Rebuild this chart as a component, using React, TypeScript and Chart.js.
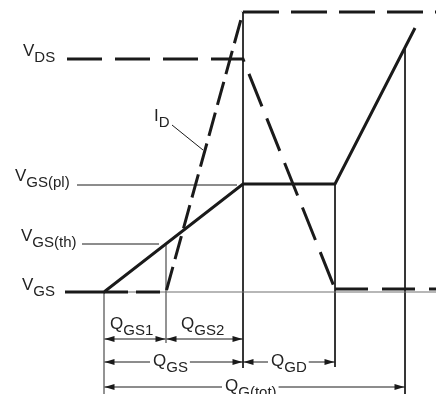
import React, { useEffect, useRef } from "react";
import { Chart, registerables } from "chart.js";

Chart.register(...registerables);

// ---- Charge axis (relative units, 0 = start of gate charging) ----
const qAxisMin = -104;
const qAxisMax = 332;
const qVgsStart = -39;
const qVdsStart = -37;
const qGS1 = 62;
const qGS = 139;
const qGD = 231;
const qTot = 301;
const qVgsEnd = 311;

// ---- Level axis (relative units, 0 = V_GS baseline) ----
const vAxisMin = -102;
const vAxisMax = 292;
const vTh = 48;
const vPl = 108;
const vDS = 233;
const vDSon = 3;
const iDmax = 280;
const vGSmax = 264;

// ---- Waveforms ----
const vgsCharge = [qVgsStart, 0, qGS, qGD, qVgsEnd];
const vgsLevel = [0, 0, vPl, vPl, vGSmax];

const idRiseCharge = [0, qGS1, qGS];
const idRiseLevel = [0, 0, iDmax];
const idTopCharge = [qGS, qAxisMax];
const idTopLevel = [iDmax, iDmax];

const vdsCharge = [qVdsStart, qGS, qGD];
const vdsLevel = [vDS, vDS, vDSon];
const vdsOnCharge = [qGD, qAxisMax];
const vdsOnLevel = [vDSon, vDSon];

// ---- Dimension rows (levels below baseline) ----
const rowLevels = [-47, -70, -95];
const arrowSpans: [number, number, number][] = [
  [0, qGS1, 0],
  [qGS1, qGS, 0],
  [0, qGS, 1],
  [qGS, qGD, 1],
  [0, qTot, 2],
];

// ---- Text labels: main, subscript, charge, level, boxed ----
const labelMain = ["V", "V", "V", "V", "I", "Q", "Q", "Q", "Q", "Q"];
const labelSub = ["DS", "GS(pl)", "GS(th)", "GS", "D", "GS1", "GS2", "GS", "GD", "G(tot)"];
const labelCharge = [-81, -89, -83, -82, 50, 6, 77, 49, 167, 121];
const labelLevel = [236, 111, 51, 2, 171, -37, -37, -74, -74, -99];
const labelBoxed = [false, false, false, false, false, false, false, true, true, true];

const pts = (xs: number[], ys: number[]) => xs.map((x, i) => ({ x, y: ys[i] }));

const INK = "#1a1a1a";
const GRAY = "#707070";
const FONT = '"Liberation Sans", Arial, Helvetica, sans-serif';

export default function App() {
  const ref = useRef<HTMLCanvasElement | null>(null);

  useEffect(() => {
    if (!ref.current) return;

    const thin = (data: { x: number; y: number }[], color = INK, width = 1) => ({
      data,
      borderColor: color,
      borderWidth: width,
      pointRadius: 0,
      showLine: true,
      fill: false,
      tension: 0,
      order: 5,
    });
    const thick = (data: { x: number; y: number }[], dash: number[]) => ({
      data,
      borderColor: INK,
      borderWidth: 3,
      borderDash: dash,
      borderCapStyle: "butt" as const,
      borderJoinStyle: "miter" as const,
      pointRadius: 0,
      showLine: true,
      fill: false,
      tension: 0,
      order: 1,
    });

    const vAtGS1 = (vPl * qGS1) / qGS;
    const vAtTot = vPl + ((vGSmax - vPl) * (qTot - qGD)) / (qVgsEnd - qGD);

    const guides = [
      thin(pts([0, qAxisMax], [0, 0]), GRAY, 1.2),
      thin(pts([0, 0], [0, vAxisMin]), GRAY, 1.5),
      thin(pts([qGS1, qGS1], [vAtGS1, rowLevels[0] - 4]), GRAY, 1.5),
      thin(pts([qGS, qGS], [iDmax, rowLevels[1] - 6])),
      thin(pts([qGD, qGD], [vPl, rowLevels[1] - 5])),
      thin(pts([qTot, qTot], [vAtTot, vAxisMin])),
      thin(pts([-27, qGS - 6], [vPl - 1, vPl - 1])),
      thin(pts([-22, qGS1 - 7], [vTh, vTh])),
      thin(pts([68, 99], [167, 142])),
      ...arrowSpans.map(([a, b, r]) => thin(pts([a, b], [rowLevels[r], rowLevels[r]]))),
    ];

    const waves = [
      thick(pts(vgsCharge, vgsLevel), []),
      thick(pts(idRiseCharge, idRiseLevel), [24, 8]),
      thick(pts(idTopCharge, idTopLevel), [36, 12]),
      thick(pts(vdsCharge, vdsLevel), [35, 13]),
      thick(pts(vdsOnCharge, vdsOnLevel), [33, 14]),
    ];

    const annot = {
      id: "annot",
      afterDatasetsDraw(chart: any) {
        const ctx = chart.ctx as CanvasRenderingContext2D;
        const xs = chart.scales.x;
        const ys = chart.scales.y;
        ctx.save();
        // arrowheads
        ctx.fillStyle = INK;
        const head = (x: number, y: number, dir: number) => {
          ctx.beginPath();
          ctx.moveTo(x, y);
          ctx.lineTo(x - dir * 10, y - 3);
          ctx.lineTo(x - dir * 10, y + 3);
          ctx.closePath();
          ctx.fill();
        };
        arrowSpans.forEach(([a, b, r]) => {
          const y = ys.getPixelForValue(rowLevels[r]);
          head(xs.getPixelForValue(a) + 0.5, y, -1);
          head(xs.getPixelForValue(b) - 0.5, y, 1);
        });
        // labels
        ctx.textBaseline = "alphabetic";
        ctx.textAlign = "left";
        labelMain.forEach((m, i) => {
          const x = xs.getPixelForValue(labelCharge[i]);
          const y = ys.getPixelForValue(labelLevel[i]);
          ctx.font = `17px ${FONT}`;
          const wm = ctx.measureText(m).width;
          ctx.font = `15px ${FONT}`;
          const ws = ctx.measureText(labelSub[i]).width;
          if (labelBoxed[i]) {
            ctx.fillStyle = "#ffffff";
            ctx.fillRect(x - 3, y - 14, wm + ws + 5, 24);
          }
          ctx.fillStyle = "#222222";
          ctx.font = `17px ${FONT}`;
          ctx.fillText(m, x, y);
          ctx.font = `15px ${FONT}`;
          ctx.fillText(labelSub[i], x + wm, y + 6);
        });
        ctx.restore();
      },
    };

    const chart = new Chart(ref.current, {
      type: "scatter",
      data: { datasets: [...waves, ...guides] as any },
      options: {
        animation: false,
        responsive: false,
        devicePixelRatio: 1,
        layout: { padding: 0 },
        plugins: { legend: { display: false }, tooltip: { enabled: false } },
        scales: {
          x: { type: "linear", min: qAxisMin, max: qAxisMax, display: false },
          y: { type: "linear", min: vAxisMin, max: vAxisMax, display: false },
        },
      },
      plugins: [annot],
    });
    return () => chart.destroy();
  }, []);

  return (
    <div style={{ position: "fixed", left: 0, top: 0, width: 436, height: 394, background: "#fff" }}>
      <canvas ref={ref} width={436} height={394} style={{ width: 436, height: 394 }} />
    </div>
  );
}
